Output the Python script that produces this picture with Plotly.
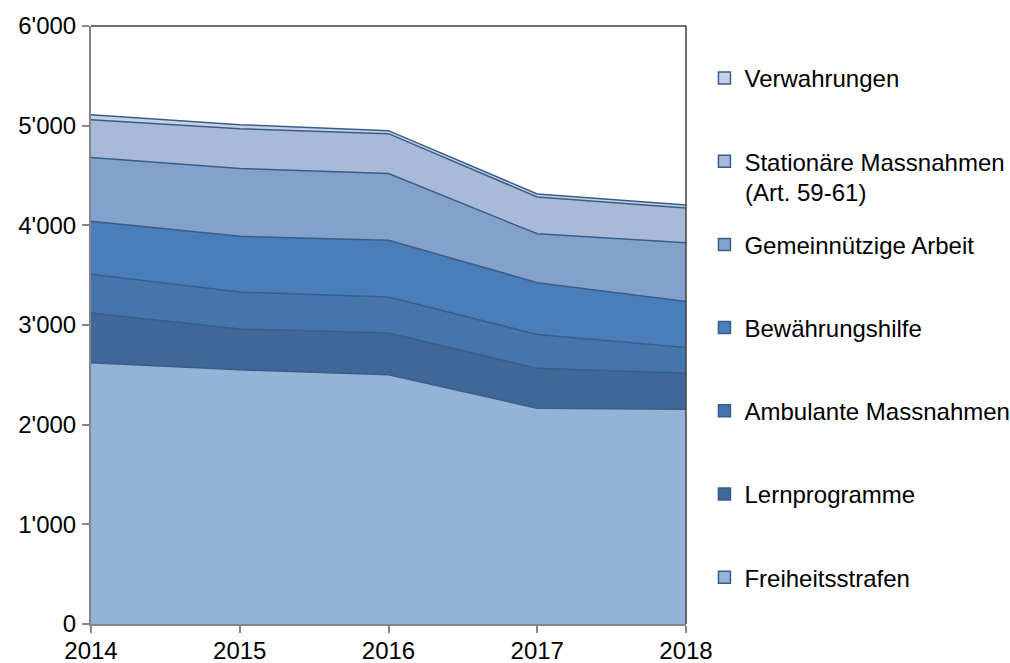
import plotly.graph_objects as go

years = [2014, 2015, 2016, 2017, 2018]
freiheitsstrafen = [2620, 2550, 2500, 2165, 2155]
lernprogramme = [500, 410, 420, 400, 360]
ambulante = [390, 370, 360, 340, 260]
bewaehrung = [530, 560, 570, 520, 460]
gemeinnuetzig = [640, 680, 670, 490, 590]
stationaer = [380, 400, 400, 370, 350]
verwahrungen = [50, 40, 30, 30, 30]

series_names = ["Freiheitsstrafen", "Lernprogramme", "Ambulante Massnahmen",
                "Bewährungshilfe", "Gemeinnützige Arbeit",
                "Stationäre Massnahmen", "Verwahrungen"]
stationaer_suffix = "(Art. 59-61)"
series_values = [freiheitsstrafen, lernprogramme, ambulante, bewaehrung,
                 gemeinnuetzig, stationaer, verwahrungen]
fill_colors = ["#95B3D7", "#3F6797", "#4675AB", "#4A7EBB", "#84A1CB", "#A9B9D8", "#C6D1E6"]
edge_color = "#385D8A"

y_tickvals = [0, 1000, 2000, 3000, 4000, 5000, 6000]
y_ticktext = ["0", "1'000", "2'000", "3'000", "4'000", "5'000", "6'000"]

fig = go.Figure()
for i, (name, vals, col) in enumerate(zip(series_names, series_values, fill_colors)):
    fig.add_trace(go.Scatter(
        x=years, y=vals, name=name, mode="lines",
        stackgroup="one", fillcolor=col,
        line=dict(color=edge_color, width=1.5),
        showlegend=False,
    ))
# legend entries (square swatches like the original)
for i, (name, col) in enumerate(zip(series_names, fill_colors)):
    fig.add_trace(go.Scatter(
        x=[None], y=[None], name=name, mode="markers",
        marker=dict(symbol="square", size=12, color=col,
                    line=dict(color=edge_color, width=1.5)),
        legendgroup=f"g{i}", legendrank=100 - i, showlegend=True,
    ))

fig.update_layout(
    width=1010, height=663,
    margin=dict(l=91, r=324, t=26, b=39, autoexpand=False),
    paper_bgcolor="white", plot_bgcolor="white",
    font=dict(family="Liberation Sans, Arial, sans-serif", size=24, color="black"),
    showlegend=True,
    legend=dict(x=1.031, xanchor="left", y=0.95, yanchor="top",
                traceorder="grouped", tracegroupgap=49,
                font=dict(size=24), itemwidth=30, bgcolor="rgba(0,0,0,0)"),
    xaxis=dict(range=[2014, 2018], tickvals=years, ticktext=[str(y) for y in years],
               showgrid=False, zeroline=False, showline=True, linecolor="#868686",
               linewidth=2, ticks="outside", ticklen=7, tickcolor="#868686",
               tickwidth=2, ticklabelstandoff=-3, tickfont=dict(size=24)),
    yaxis=dict(range=[0, 6000], tickvals=y_tickvals, ticktext=y_ticktext,
               showgrid=False, zeroline=False, showline=True, linecolor="#868686",
               linewidth=2, ticks="outside", ticklen=7, tickcolor="#868686",
               tickwidth=2, ticklabelstandoff=1, tickfont=dict(size=24)),
    shapes=[
        dict(type="line", xref="paper", yref="paper", x0=0, x1=1, y0=1, y1=1,
             line=dict(color="#404040", width=1.5)),
        dict(type="line", xref="paper", yref="paper", x0=1, x1=1, y0=0, y1=1,
             line=dict(color="#404040", width=1.5)),
    ],
    annotations=[
        dict(text=stationaer_suffix, xref="paper", yref="paper",
             x=1.0955, y=0.7224, xanchor="left", yanchor="middle",
             showarrow=False, font=dict(size=24)),
    ],
)

fig.write_html("out.html", config={"displayModeBar": False})
with open("out.html", encoding="utf-8") as f:
    html = f.read()
html = html.replace("<head>", "<head><style>html,body{margin:0;padding:0;overflow:hidden}</style>", 1)
with open("out.html", "w", encoding="utf-8") as f:
    f.write(html)
